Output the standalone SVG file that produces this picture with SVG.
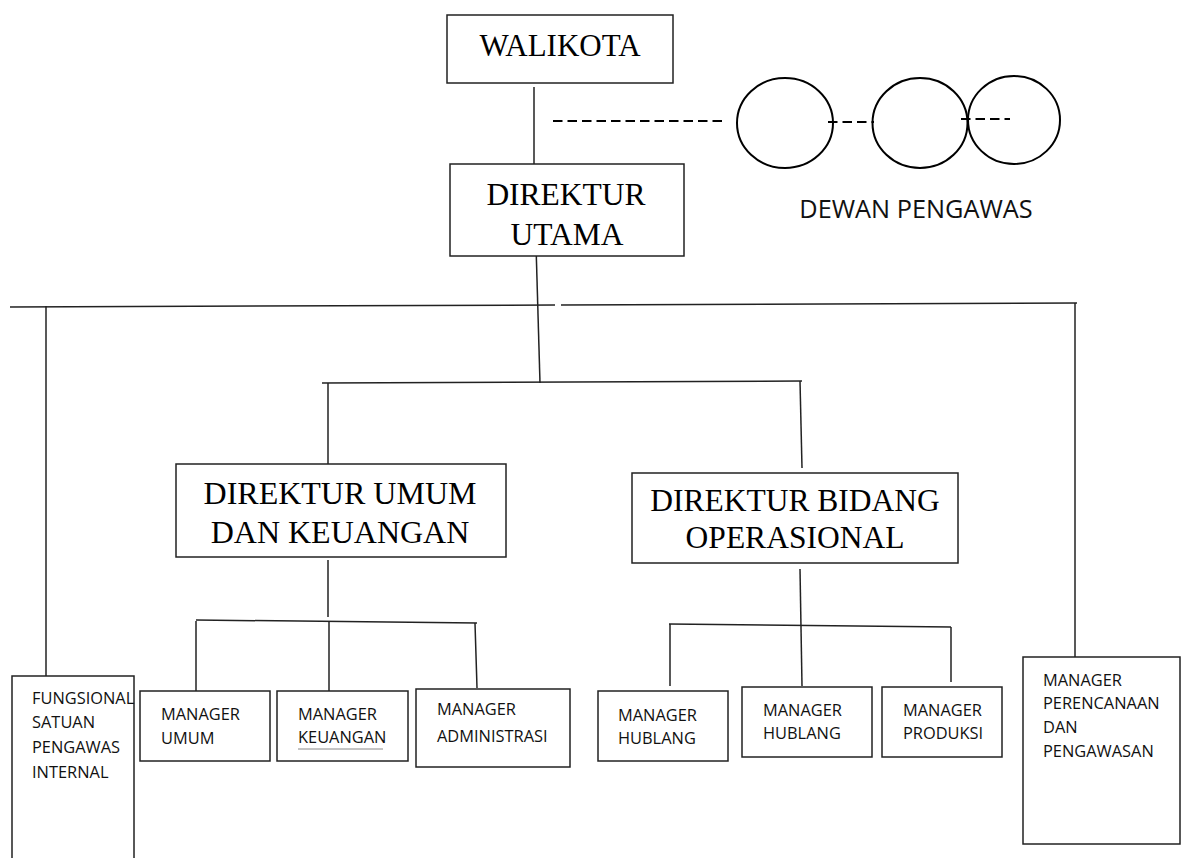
<svg xmlns="http://www.w3.org/2000/svg" width="1184" height="858" viewBox="0 0 1184 858">
<style>
.box{fill:#fff;stroke:#222;stroke-width:1.5}
.ln{stroke:#222;stroke-width:1.5;fill:none}
.dash{stroke:#000;stroke-width:2;stroke-dasharray:9.5 5;fill:none}
.circ{fill:none;stroke:#000;stroke-width:2}
.serif{font-family:"Liberation Serif","Times New Roman",serif;fill:#000;text-anchor:middle}
.sans{font-family:"Open Sans","Liberation Sans",sans-serif;fill:#111;font-size:16.4px}
</style>
<rect width="1184" height="858" fill="#fff"/>
<g id="connectors">
<line class="ln" x1="534" y1="87" x2="534" y2="164"/>
<line class="ln" x1="536" y1="245" x2="540" y2="383"/>
<line class="ln" x1="10" y1="307" x2="555" y2="305"/>
<line class="ln" x1="561" y1="305" x2="1077" y2="303"/>
<line class="ln" x1="46" y1="306" x2="46" y2="676"/>
<line class="ln" x1="1075" y1="303" x2="1075" y2="657"/>
<line class="ln" x1="322" y1="383" x2="802" y2="381"/>
<line class="ln" x1="328" y1="383" x2="328" y2="464"/>
<line class="ln" x1="800" y1="381" x2="802" y2="468"/>
<line class="ln" x1="328" y1="560" x2="328" y2="617"/>
<line class="ln" x1="196" y1="620" x2="477" y2="623"/>
<line class="ln" x1="196" y1="621" x2="196" y2="691"/>
<line class="ln" x1="329" y1="621" x2="329" y2="691"/>
<line class="ln" x1="475" y1="623" x2="477" y2="688"/>
<line class="ln" x1="800" y1="569" x2="802" y2="686"/>
<line class="ln" x1="669" y1="624" x2="951" y2="627"/>
<line class="ln" x1="670" y1="624" x2="670" y2="686"/>
<line class="ln" x1="951" y1="627" x2="951" y2="682"/>
<line class="dash" x1="553" y1="121" x2="727" y2="121"/>
<line class="dash" x1="828" y1="122" x2="874" y2="122"/>
<line class="dash" x1="961" y1="119" x2="1010" y2="119"/>
</g>
<g id="walikota">
<rect class="box" x="447" y="15" width="226" height="68"/>
<text class="serif" x="560" y="56" font-size="31">WALIKOTA</text>
</g>
<g id="dewan-pengawas">
<ellipse class="circ" cx="785" cy="123" rx="48" ry="45"/>
<ellipse class="circ" cx="920" cy="123" rx="47.5" ry="45"/>
<ellipse class="circ" cx="1014" cy="120" rx="46" ry="44"/>
<text x="916" y="218" font-family="Open Sans, Liberation Sans, sans-serif" font-size="25.3" fill="#111" text-anchor="middle">DEWAN PENGAWAS</text>
</g>
<g id="direktur-utama">
<rect class="box" x="450" y="164" width="234" height="92"/>
<text class="serif" x="566" y="205" font-size="31.5">DIREKTUR</text>
<text class="serif" x="567" y="245" font-size="31.5">UTAMA</text>
</g>
<g id="direktur-umum">
<rect class="box" x="176" y="464" width="330" height="93"/>
<text class="serif" x="340" y="504" font-size="32">DIREKTUR UMUM</text>
<text class="serif" x="340" y="543" font-size="32">DAN KEUANGAN</text>
</g>
<g id="direktur-bidang">
<rect class="box" x="632" y="473" width="326" height="90"/>
<text class="serif" x="795" y="511" font-size="31.5">DIREKTUR BIDANG</text>
<text class="serif" x="795" y="548" font-size="31.5">OPERASIONAL</text>
</g>
<g id="fungsional">
<rect class="box" x="12" y="676" width="122" height="200"/>
<text class="sans" x="32" y="704" font-size="15.5">FUNGSIONAL</text>
<text class="sans" x="32" y="728" font-size="15.5">SATUAN</text>
<text class="sans" x="32" y="753" font-size="15.5">PENGAWAS</text>
<text class="sans" x="32" y="778" font-size="15.5">INTERNAL</text>
</g>
<g id="manager-umum">
<rect class="box" x="140" y="691" width="130" height="70"/>
<text class="sans" x="161" y="720">MANAGER</text>
<text class="sans" x="161" y="744">UMUM</text>
</g>
<g id="manager-keuangan">
<rect class="box" x="277" y="691" width="131" height="70"/>
<text class="sans" x="298" y="720">MANAGER</text>
<text class="sans" x="298" y="743">KEUANGAN</text>
<line x1="298" y1="749" x2="383" y2="749" stroke="#888" stroke-width="1"/>
</g>
<g id="manager-administrasi">
<rect class="box" x="416" y="689" width="154" height="78"/>
<text class="sans" x="437" y="715">MANAGER</text>
<text class="sans" x="437" y="742">ADMINISTRASI</text>
</g>
<g id="manager-hublang-1">
<rect class="box" x="598" y="691" width="130" height="70"/>
<text class="sans" x="618" y="721">MANAGER</text>
<text class="sans" x="618" y="744">HUBLANG</text>
</g>
<g id="manager-hublang-2">
<rect class="box" x="742" y="687" width="130" height="70"/>
<text class="sans" x="763" y="716">MANAGER</text>
<text class="sans" x="763" y="739">HUBLANG</text>
</g>
<g id="manager-produksi">
<rect class="box" x="882" y="687" width="120" height="70"/>
<text class="sans" x="903" y="716">MANAGER</text>
<text class="sans" x="903" y="739">PRODUKSI</text>
</g>
<g id="manager-perencanaan">
<rect class="box" x="1023" y="657" width="157" height="187"/>
<text class="sans" x="1043" y="686">MANAGER</text>
<text class="sans" x="1043" y="709">PERENCANAAN</text>
<text class="sans" x="1043" y="733">DAN</text>
<text class="sans" x="1043" y="757">PENGAWASAN</text>
</g>
</svg>
